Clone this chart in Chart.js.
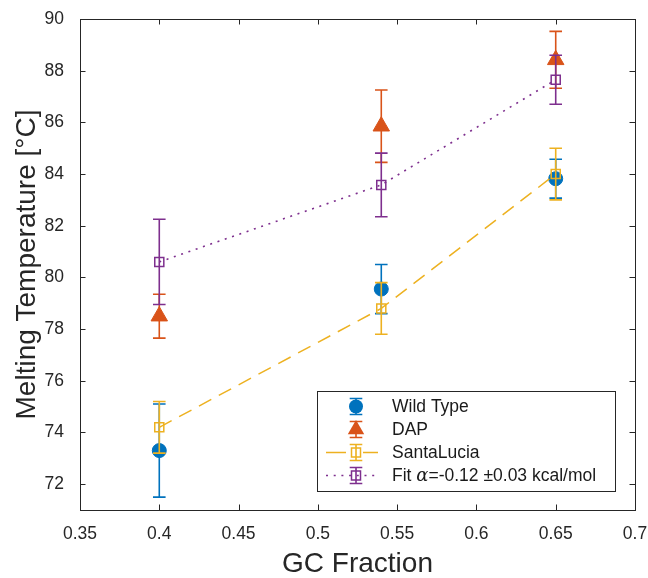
<!DOCTYPE html>
<html>
<head>
<meta charset="utf-8">
<script src="https://cdn.jsdelivr.net/npm/chart.js@4.4.1/dist/chart.umd.min.js"></script>
<style>
html,body{margin:0;padding:0;background:#fff;}
#wrap{width:648px;height:578px;position:relative;}
</style>
</head>
<body>
<div id="wrap"><canvas id="c" width="648" height="578"></canvas></div>
<script>
// ---- data ----
const gcFraction = [0.40, 0.54, 0.65];
const wildType    = [73.30, 79.55, 83.82];
const wildTypeErr = [1.80, 0.95, 0.75];
const dap         = [78.50, 85.85, 88.42];
const dapErr      = [0.85, 1.40, 1.10];
const santaLucia    = [74.20, 78.80, 84.00];
const santaLuciaErr = [1.00, 1.00, 1.00];
const fit    = [80.60, 83.58, 87.65];
const fitErr = [1.65, 1.23, 0.95];
const seriesNames = ['Wild Type', 'DAP', 'SantaLucia', 'Fit'];
const xTickValues = [0.35, 0.40, 0.45, 0.50, 0.55, 0.60, 0.65, 0.70];
const xTickLabels = ['0.35', '0.4', '0.45', '0.5', '0.55', '0.6', '0.65', '0.7'];
const yTickValues = [72, 74, 76, 78, 80, 82, 84, 86, 88, 90];
const yTickLabels = ['72', '74', '76', '78', '80', '82', '84', '86', '88', '90'];
const xTitle = 'GC Fraction';
const yTitle = 'Melting Temperature [°C]';

const COLORS = ['#0072BD', '#D95319', '#EDB120', '#7E2F8E'];
const AXIS = '#262626';
const FONT = "'Liberation Sans', Arial, Helvetica, sans-serif";
const errs = [wildTypeErr, dapErr, santaLuciaErr, fitErr];
const DASH_SL = [14, 8.5];
const DASH_FIT = [2, 5.7];

function pts(ys) { return gcFraction.map((x, i) => ({x: x, y: ys[i]})); }
function zeroPad(s) { s.paddingLeft = 0; s.paddingRight = 0; s.paddingTop = 0; s.paddingBottom = 0; }

// inward ticks + box
const boxPlugin = {
  id: 'boxPlugin',
  beforeDatasetsDraw(chart) {
    const {ctx, chartArea: a, scales: {x, y}} = chart;
    ctx.save();
    ctx.strokeStyle = AXIS;
    ctx.lineWidth = 1;
    ctx.setLineDash([]);
    const L = 5.5;
    ctx.beginPath();
    xTickValues.forEach(v => {
      const px = Math.round(x.getPixelForValue(v)) + 0.5;
      ctx.moveTo(px, a.bottom); ctx.lineTo(px, a.bottom - L);
      ctx.moveTo(px, a.top); ctx.lineTo(px, a.top + L);
    });
    yTickValues.forEach(v => {
      const py = Math.round(y.getPixelForValue(v)) + 0.5;
      ctx.moveTo(a.left, py); ctx.lineTo(a.left + L, py);
      ctx.moveTo(a.right, py); ctx.lineTo(a.right - L, py);
    });
    ctx.stroke();
    ctx.strokeRect(Math.round(a.left) + 0.5, Math.round(a.top) + 0.5,
                   Math.round(a.right - a.left), Math.round(a.bottom - a.top));
    ctx.restore();
  }
};

function drawErrBar(ctx, px, pTop, pBot, color) {
  const cap = 6.3;
  ctx.save();
  ctx.strokeStyle = color;
  ctx.lineWidth = 1.6;
  ctx.setLineDash([]);
  ctx.beginPath();
  ctx.moveTo(px, pTop); ctx.lineTo(px, pBot);
  ctx.moveTo(px - cap, pTop); ctx.lineTo(px + cap, pTop);
  ctx.moveTo(px - cap, pBot); ctx.lineTo(px + cap, pBot);
  ctx.stroke();
  ctx.restore();
}

const errPlugin = {
  id: 'errPlugin',
  afterDatasetDraw(chart, args) {
    const i = args.index;
    const ds = chart.data.datasets[i];
    const {ctx, scales: {x, y}} = chart;
    ds.data.forEach((p, k) => {
      const px = x.getPixelForValue(p.x);
      const e = errs[i][k];
      drawErrBar(ctx, px, y.getPixelForValue(p.y + e), y.getPixelForValue(p.y - e), COLORS[i]);
    });
  }
};

function drawMarker(ctx, style, cx, cy, color) {
  ctx.save();
  ctx.setLineDash([]);
  ctx.fillStyle = color; ctx.strokeStyle = color;
  ctx.beginPath();
  if (style === 'circle') {
    ctx.arc(cx, cy, 7, 0, Math.PI * 2); ctx.fill();
  } else if (style === 'triangle') {
    const r = 9.5;
    ctx.moveTo(cx, cy - r);
    ctx.lineTo(cx + r * Math.sqrt(3) / 2, cy + r / 2);
    ctx.lineTo(cx - r * Math.sqrt(3) / 2, cy + r / 2);
    ctx.closePath(); ctx.fill();
  } else {
    ctx.lineWidth = 1.5;
    const h = 4.5;
    ctx.rect(cx - h, cy - h, 2 * h, 2 * h); ctx.stroke();
  }
  ctx.restore();
}

const legendPlugin = {
  id: 'legendPlugin',
  afterDraw(chart) {
    const ctx = chart.ctx;
    const bx = 317.5, by = 391.5, bw = 298, bh = 100;
    ctx.save();
    ctx.fillStyle = '#fff';
    ctx.fillRect(bx, by, bw, bh);
    ctx.strokeStyle = AXIS; ctx.lineWidth = 1;
    ctx.strokeRect(bx, by, bw, bh);
    const rows = [406.5, 429.5, 452.5, 475.5];
    const styles = ['circle', 'triangle', 'rect', 'rect'];
    const mx = 356;
    rows.forEach((ry, i) => {
      const c = COLORS[i];
      if (i === 2 || i === 3) {
        ctx.save();
        ctx.strokeStyle = c; ctx.lineWidth = 1.5;
        ctx.setLineDash(i === 2 ? [20, 17] : DASH_FIT);
        ctx.beginPath(); ctx.moveTo(326, ry); ctx.lineTo(378, ry); ctx.stroke();
        ctx.restore();
      }
      drawMarker(ctx, styles[i], mx, ry, c);
      drawErrBar(ctx, mx, ry - 8, ry + 8, c);
      ctx.fillStyle = '#1a1a1a';
      ctx.textBaseline = 'middle';
      ctx.textAlign = 'left';
      ctx.font = '17.5px ' + FONT;
      let tx = 392;
      if (i < 3) {
        ctx.fillText(seriesNames[i], tx, ry + 1);
      } else {
        const a = seriesNames[i] + ' ';
        ctx.fillText(a, tx, ry + 1); tx += ctx.measureText(a).width;
        ctx.font = "italic 18px 'DejaVu Serif', 'Liberation Serif', serif";
        ctx.fillText('α', tx, ry + 1); tx += ctx.measureText('α').width;
        ctx.font = '17.5px ' + FONT;
        ctx.fillText('=-0.12 ±0.03 kcal/mol', tx, ry + 1);
      }
    });
    ctx.restore();
  }
};

new Chart(document.getElementById('c'), {
  type: 'scatter',
  data: {
    datasets: [
      { label: seriesNames[0], data: pts(wildType), order: 3, showLine: false,
        pointStyle: 'circle', pointRadius: 7, pointBackgroundColor: COLORS[0], pointBorderColor: COLORS[0], pointBorderWidth: 1 },
      { label: seriesNames[1], data: pts(dap), order: 2, showLine: false,
        pointStyle: 'triangle', pointRadius: 9.5, pointBackgroundColor: COLORS[1], pointBorderColor: COLORS[1], pointBorderWidth: 1 },
      { label: seriesNames[2], data: pts(santaLucia), order: 1, showLine: true,
        borderColor: COLORS[2], borderWidth: 1.5, borderDash: DASH_SL, fill: false, tension: 0,
        pointStyle: 'rect', pointRadius: 6.4, pointBackgroundColor: 'rgba(0,0,0,0)', pointBorderColor: COLORS[2], pointBorderWidth: 1.5 },
      { label: seriesNames[3], data: pts(fit), order: 0, showLine: true,
        borderColor: COLORS[3], borderWidth: 1.6, borderDash: DASH_FIT, fill: false, tension: 0,
        pointStyle: 'rect', pointRadius: 6.4, pointBackgroundColor: 'rgba(0,0,0,0)', pointBorderColor: COLORS[3], pointBorderWidth: 1.5 }
    ]
  },
  options: {
    responsive: false,
    animation: false,
    devicePixelRatio: 1,
    layout: { padding: { top: 19, right: 13, left: 0, bottom: 0 } },
    plugins: { legend: { display: false }, tooltip: { enabled: false } },
    scales: {
      x: {
        type: 'linear', min: 0.35, max: 0.7,
        afterBuildTicks: s => { s.ticks = xTickValues.map(v => ({value: v})); },
        afterFit: s => { s.height = 68; zeroPad(s); },
        grid: { display: false, drawTicks: false },
        border: { display: false },
        ticks: { autoSkip: false, maxRotation: 0, padding: 14, color: AXIS,
                 font: { family: FONT, size: 17.5 },
                 callback: (v, i) => xTickLabels[i] },
        title: { display: true, text: xTitle, color: AXIS, padding: 0,
                 font: { family: FONT, size: 28, lineHeight: 1 } }
      },
      y: {
        type: 'linear', min: 71, max: 90,
        afterBuildTicks: s => { s.ticks = yTickValues.map(v => ({value: v})); },
        afterFit: s => { s.width = 80; zeroPad(s); },
        grid: { display: false, drawTicks: false },
        border: { display: false },
        ticks: { autoSkip: false, padding: 16, color: AXIS,
                 font: { family: FONT, size: 17.5 },
                 callback: (v, i) => yTickLabels[i] },
        title: { display: true, text: yTitle, color: AXIS, padding: { top: 13, bottom: 0 },
                 font: { family: FONT, size: 28, lineHeight: 1 } }
      }
    }
  },
  plugins: [boxPlugin, errPlugin, legendPlugin]
});
</script>
</body>
</html>
